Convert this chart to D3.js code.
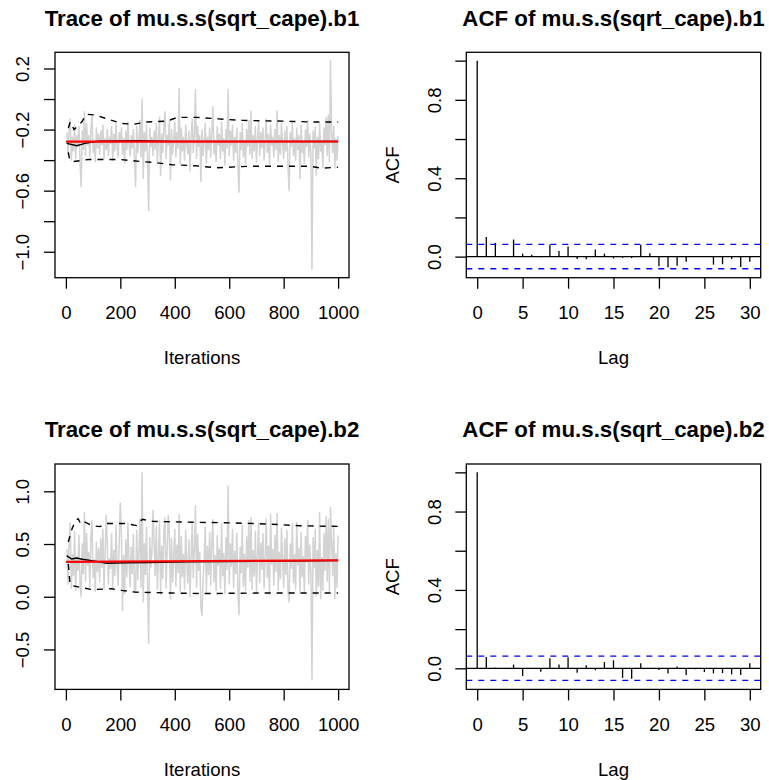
<!DOCTYPE html>
<html><head><meta charset="utf-8">
<script src="https://cdn.jsdelivr.net/npm/d3@7"></script>
<style>body{margin:0;background:#fff}svg{display:block}</style>
</head><body>
<script>
// ---------------- DATA ----------------
const titles = ["Trace of mu.s.s(sqrt_cape).b1", "ACF of mu.s.s(sqrt_cape).b1",
                "Trace of mu.s.s(sqrt_cape).b2", "ACF of mu.s.s(sqrt_cape).b2"];
const traceStep = 4; // one value every 4 iterations (iterations 4..1000)
const b1Trace = [
 -0.22,-0.36,-0.19,-0.13,-0.40,-0.25,-0.34,-0.17,-0.39,-0.24,
 -0.31,-0.18,-0.42,-0.575,-0.21,-0.33,-0.083,-0.37,-0.16,-0.30,
 -0.24,-0.38,-0.20,-0.105,-0.35,-0.27,-0.41,-0.19,-0.32,-0.23,
 -0.36,-0.21,-0.30,-0.17,-0.39,-0.26,-0.33,-0.20,-0.37,-0.25,
 -0.29,-0.18,-0.40,-0.23,-0.34,-0.16,-0.31,-0.38,-0.22,-0.28,
 -0.19,-0.36,-0.26,-0.42,-0.21,-0.33,-0.15,-0.30,-0.37,-0.24,
 -0.32,-0.20,-0.39,-0.575,-0.18,-0.35,-0.27,-0.14,-0.38,0.0,
 -0.52,-0.22,-0.34,-0.17,-0.40,-0.73,-0.19,-0.31,-0.25,-0.37,
 -0.21,-0.33,-0.16,-0.41,-0.26,-0.12,-0.50,-0.23,-0.35,-0.18,
 -0.083,-0.39,-0.24,-0.30,-0.14,-0.53,-0.20,-0.36,-0.27,-0.15,
 -0.38,-0.22,-0.32,0.07,-0.43,-0.19,-0.34,-0.25,-0.40,-0.17,
 -0.29,-0.36,-0.21,-0.47,-0.26,-0.13,-0.35,-0.23,0.06,-0.39,
 -0.18,-0.31,-0.24,-0.54,-0.20,-0.37,-0.28,-0.16,-0.42,-0.25,
 -0.33,-0.19,-0.38,-0.22,-0.05,-0.36,-0.27,-0.41,-0.18,-0.30,
 -0.23,-0.39,-0.15,-0.34,-0.26,-0.43,-0.20,-0.32,0.06,-0.37,
 -0.21,-0.30,-0.17,-0.40,-0.25,-0.35,-0.19,-0.44,-0.61,-0.22,
 -0.33,-0.16,-0.38,-0.27,-0.42,-0.20,-0.31,-0.14,-0.36,-0.08,
 -0.39,-0.24,-0.34,-0.18,-0.41,-0.26,-0.15,-0.37,-0.22,-0.32,
 -0.19,-0.40,-0.28,-0.13,-0.35,-0.23,-0.43,-0.17,-0.30,-0.25,
 -0.38,-0.20,-0.33,-0.079,-0.41,-0.24,-0.36,-0.16,-0.29,-0.39,
 -0.21,-0.34,-0.18,-0.44,-0.60,-0.22,-0.31,-0.15,-0.37,-0.26,
 -0.40,-0.19,-0.33,-0.24,-0.52,-0.17,-0.35,-0.28,-0.42,-0.20,
 -0.31,-0.14,-0.38,-0.23,-0.36,-1.115,-0.21,-0.32,-0.18,-0.50,
 -0.25,-0.39,-0.16,-0.34,-0.27,-0.45,-0.19,-0.30,-0.12,-0.37,
 -0.105,-0.41,0.25,-0.22,-0.35,-0.18,-0.45,-0.26,-0.40,-0.24
];
const b2Trace = [
 0.45,0.12,0.55,0.70,0.08,0.40,0.20,0.62,0.06,0.38,
 0.25,0.58,0.10,0.00,0.50,0.22,0.80,0.15,0.60,0.30,
 0.42,0.09,0.57,0.72,0.18,0.35,0.05,0.52,0.24,0.46,
 0.14,0.55,0.28,0.64,0.07,0.40,0.77,0.50,0.12,0.36,
 0.27,0.60,0.08,0.44,0.20,0.68,0.30,0.11,0.53,0.89,
 0.58,-0.13,0.39,0.03,0.54,0.19,0.70,0.32,0.10,0.47,
 0.22,0.59,0.06,0.04,0.63,0.16,0.41,0.74,0.09,1.176,
 -0.05,0.50,0.21,0.66,0.12,-0.44,0.56,0.28,0.43,0.82,
 0.52,0.20,0.67,0.07,0.38,0.72,0.02,0.48,0.17,0.62,
 0.75,0.08,0.44,0.77,0.60,-0.02,0.55,0.14,0.37,0.64,
 0.10,0.49,0.23,0.78,0.05,0.57,0.19,0.40,0.07,0.63,
 0.31,0.13,0.54,0.00,0.36,0.70,0.18,0.46,0.86,0.09,
 0.59,0.25,0.42,-0.10,-0.18,0.16,0.37,0.66,0.04,0.48,
 0.21,0.61,0.11,0.52,0.73,0.14,0.39,0.06,0.58,0.30,
 0.45,0.08,0.69,0.20,0.41,0.03,0.56,0.26,1.05,0.12,
 0.50,0.29,0.64,0.09,0.43,0.22,0.60,0.04,-0.17,0.47,
 0.23,0.68,0.10,0.40,0.06,0.57,0.28,0.72,0.15,0.75,
 0.07,0.44,0.20,0.62,0.05,0.38,0.70,0.13,0.51,0.26,
 0.60,0.08,0.36,0.74,0.18,0.48,0.02,0.78,0.31,0.45,
 0.11,0.58,0.24,0.79,0.06,0.42,0.17,0.65,0.35,0.09,
 0.55,0.21,0.63,0.04,-0.05,0.50,0.27,0.69,0.13,0.40,
 0.07,0.705,0.30,0.46,0.03,0.61,0.19,0.38,0.05,0.57,
 0.33,0.72,0.12,0.49,0.22,-0.79,0.56,0.28,0.64,0.01,
 0.44,0.10,0.80,-0.02,0.37,0.06,0.60,0.25,0.76,0.15,
 0.73,0.05,0.846,0.52,0.20,0.67,-0.02,0.41,0.09,0.58
];
// running mean (solid black), running quantiles (dashed), overall smooth (red)
const b1MeanIter = [3,40,70,119,266,400,1000];
const b1Mean     = [-0.29,-0.306,-0.29,-0.276,-0.273,-0.277,-0.278];
const b1UpIter   = [9,16,30,58,76,110,160,205,250,300,370,410,480,560,650,800,900,1000];
const b1Up       = [-0.19,-0.15,-0.20,-0.15,-0.10,-0.105,-0.135,-0.16,-0.165,-0.15,-0.145,-0.12,-0.12,-0.13,-0.14,-0.145,-0.15,-0.15];
const b1LoIter   = [9,14,25,82,200,278,320,389,474,554,676,897,940,1000];
const b1Lo       = [-0.35,-0.40,-0.41,-0.396,-0.396,-0.41,-0.415,-0.43,-0.437,-0.45,-0.44,-0.44,-0.453,-0.446];
const b1RedIter  = [1,1000];
const b1Red      = [-0.279,-0.278];

const b2MeanIter = [3,21,40,60,95,150,220,300,450,1000];
const b2Mean     = [0.39,0.358,0.367,0.355,0.343,0.318,0.322,0.325,0.332,0.343];
const b2UpIter   = [9,22,35,45,55,68,95,125,150,220,260,281,320,400,615,740,860,1000];
const b2Up       = [0.52,0.64,0.72,0.74,0.69,0.71,0.675,0.665,0.695,0.695,0.675,0.735,0.715,0.71,0.70,0.69,0.673,0.667];
const b2LoIter   = [9,15,22,52,95,168,205,254,390,500,700,1000];
const b2Lo       = [0.31,0.12,0.105,0.09,0.068,0.075,0.06,0.044,0.035,0.03,0.035,0.035];
const b2RedIter  = [1,1000];
const b2Red      = [0.330,0.346];

const acfLags = [0,1,2,3,4,5,6,7,8,9,10,11,12,13,14,15,16,17,18,19,20,21,22,23,24,25,26,27,28,29,30];
const b1Acf = [1.0,0.100,0.070,0.003,0.087,0.015,0.010,-0.003,0.061,0.029,0.051,-0.012,-0.014,0.036,0.015,-0.009,
               -0.007,-0.007,0.061,0.017,-0.049,-0.054,-0.046,-0.026,-0.002,-0.001,-0.041,-0.039,-0.012,-0.053,-0.026];
const b2Acf = [1.0,0.058,0.003,0.002,0.019,-0.039,0.002,-0.017,0.051,0.019,0.056,-0.022,0.015,-0.010,0.032,0.041,
               -0.049,-0.053,0.026,0.0,-0.008,-0.027,0.009,-0.034,-0.005,-0.019,-0.026,-0.024,-0.031,-0.034,0.026];
const acfCI = 0.062;

const traceXTicks = [0,200,400,600,800,1000];
const acfXTicks = [0,5,10,15,20,25,30];
const b1YTicks = [-1.0,-0.8,-0.6,-0.4,-0.2,0.0,0.2];
const b1YLabels = [-1.0,-0.6,-0.2,0.2];
const b2YTicks = [-0.5,0.0,0.5,1.0];
const b2YLabels = [-0.5,0.0,0.5,1.0];
const acfYTicks = [0.0,0.2,0.4,0.6,0.8,1.0];
const acfYLabels = [0.0,0.4,0.8];

// ---------------- DRAW ----------------
const W = 769, H = 780;
const FS = 18.6, TFS = 22.3;
const FONT = "'Liberation Sans', Arial, Helvetica, sans-serif";
const svg = d3.select("body").append("svg").attr("width", W).attr("height", H)
  .style("font-family", FONT);

const boxes = [
  {l:55, r:349, t:52.3, b:277.7},
  {l:466.3, r:760.7, t:52.3, b:277.7},
  {l:55, r:349, t:464, b:689.4},
  {l:466.3, r:760.7, t:464, b:689.4}
];
const f1 = d3.format(".1f");

function makePanel(box, xDom, yDom, xTicks, yTicks, yLabels, title, xlab, ylab) {
  const x = d3.scaleLinear().domain(xDom).range([box.l, box.r]);
  const y = d3.scaleLinear().domain(yDom).range([box.b, box.t]);
  const g = svg.append("g");
  const data = g.append("g");
  g.append("rect").attr("x", box.l).attr("y", box.t).attr("width", box.r - box.l)
    .attr("height", box.b - box.t).attr("fill", "none").attr("stroke", "#000").attr("stroke-width", 1.3);
  const ax = g.append("g").attr("transform", `translate(0,${box.b})`)
    .call(d3.axisBottom(x).tickValues(xTicks).tickSize(11).tickFormat(d3.format("d")));
  ax.attr("font-size", null).attr("font-family", null);
  ax.select(".domain").remove();
  ax.selectAll(".tick line").attr("stroke", "#000").attr("stroke-width", 1.3);
  ax.selectAll(".tick text").attr("y", 41.6).attr("dy", 0).attr("fill", "#000").attr("font-size", FS);
  const ay = g.append("g").attr("transform", `translate(${box.l},0)`)
    .call(d3.axisLeft(y).tickValues(yTicks).tickSize(11).tickFormat(d => yLabels.includes(d) ? f1(d) : ""));
  ay.attr("font-size", null).attr("font-family", null);
  ay.select(".domain").remove();
  ay.selectAll(".tick line").attr("stroke", "#000").attr("stroke-width", 1.3);
  ay.selectAll(".tick text").attr("transform", "rotate(-90)").attr("x", 0).attr("y", -25.8)
    .attr("dy", 0).attr("text-anchor", "middle").attr("fill", "#000").attr("font-size", FS);
  g.append("text").attr("x", (box.l + box.r) / 2).attr("y", box.t - 26.8)
    .attr("text-anchor", "middle").attr("font-weight", "bold").attr("font-size", TFS).text(title);
  g.append("text").attr("x", (box.l + box.r) / 2).attr("y", box.b + 86.6)
    .attr("text-anchor", "middle").attr("font-size", FS).text(xlab);
  if (ylab) {
    const cy = (box.t + box.b) / 2;
    g.append("text").attr("transform", `translate(${box.l - 67.3},${cy}) rotate(-90)`)
      .attr("text-anchor", "middle").attr("font-size", FS).text(ylab);
  }
  return {x, y, data};
}

function tracePanel(box, title, trace, yDom, yTicks, yLabels, upI, up, loI, lo, mI, m, rI, r) {
  const p = makePanel(box, [-40, 1040], yDom, traceXTicks, yTicks, yLabels, title, "Iterations", null);
  const pts = trace.map((v, i) => [(i + 1) * traceStep, v]);
  const line = d3.line().x(d => p.x(d[0])).y(d => p.y(d[1]));
  p.data.append("path").attr("d", line(pts)).attr("fill", "none")
    .attr("stroke", "#d3d3d3").attr("stroke-width", 1.5).attr("stroke-linejoin", "round");
  const dash = (I, V) => p.data.append("path").attr("d", line(I.map((it, k) => [it, V[k]])))
    .attr("fill", "none").attr("stroke", "#000").attr("stroke-width", 1.4)
    .attr("stroke-dasharray", "6,6");
  dash(upI, up); dash(loI, lo);
  p.data.append("path").attr("d", line(mI.map((it, k) => [it, m[k]])))
    .attr("fill", "none").attr("stroke", "#000").attr("stroke-width", 1.4);
  p.data.append("path").attr("d", line(rI.map((it, k) => [it, r[k]])))
    .attr("fill", "none").attr("stroke", "#ff0000").attr("stroke-width", 2.2);
}

function acfPanel(box, title, acf) {
  const p = makePanel(box, [-1.2, 31.2], [-0.1076, 1.0426], acfXTicks, acfYTicks, acfYLabels, title, "Lag", "ACF");
  p.data.selectAll("line.bar").data(acfLags).join("line").attr("class", "bar")
    .attr("x1", d => p.x(d)).attr("x2", d => p.x(d))
    .attr("y1", p.y(0)).attr("y2", (d, i) => p.y(acf[i]))
    .attr("stroke", "#000").attr("stroke-width", 1.3);
  p.data.append("line").attr("x1", box.l).attr("x2", box.r).attr("y1", p.y(0)).attr("y2", p.y(0))
    .attr("stroke", "#000").attr("stroke-width", 1.3);
  [acfCI, -acfCI].forEach(c => {
    p.data.append("line").attr("x1", box.l).attr("x2", box.r).attr("y1", p.y(c)).attr("y2", p.y(c))
      .attr("stroke", "#0000ff").attr("stroke-width", 1.3).attr("stroke-dasharray", "6,6");
  });
}

tracePanel(boxes[0], titles[0], b1Trace, [-1.17, 0.306], b1YTicks, b1YLabels,
  b1UpIter, b1Up, b1LoIter, b1Lo, b1MeanIter, b1Mean, b1RedIter, b1Red);
acfPanel(boxes[1], titles[1], b1Acf);
tracePanel(boxes[2], titles[2], b2Trace, [-0.879, 1.259], b2YTicks, b2YLabels,
  b2UpIter, b2Up, b2LoIter, b2Lo, b2MeanIter, b2Mean, b2RedIter, b2Red);
acfPanel(boxes[3], titles[3], b2Acf);
</script>
</body></html>
